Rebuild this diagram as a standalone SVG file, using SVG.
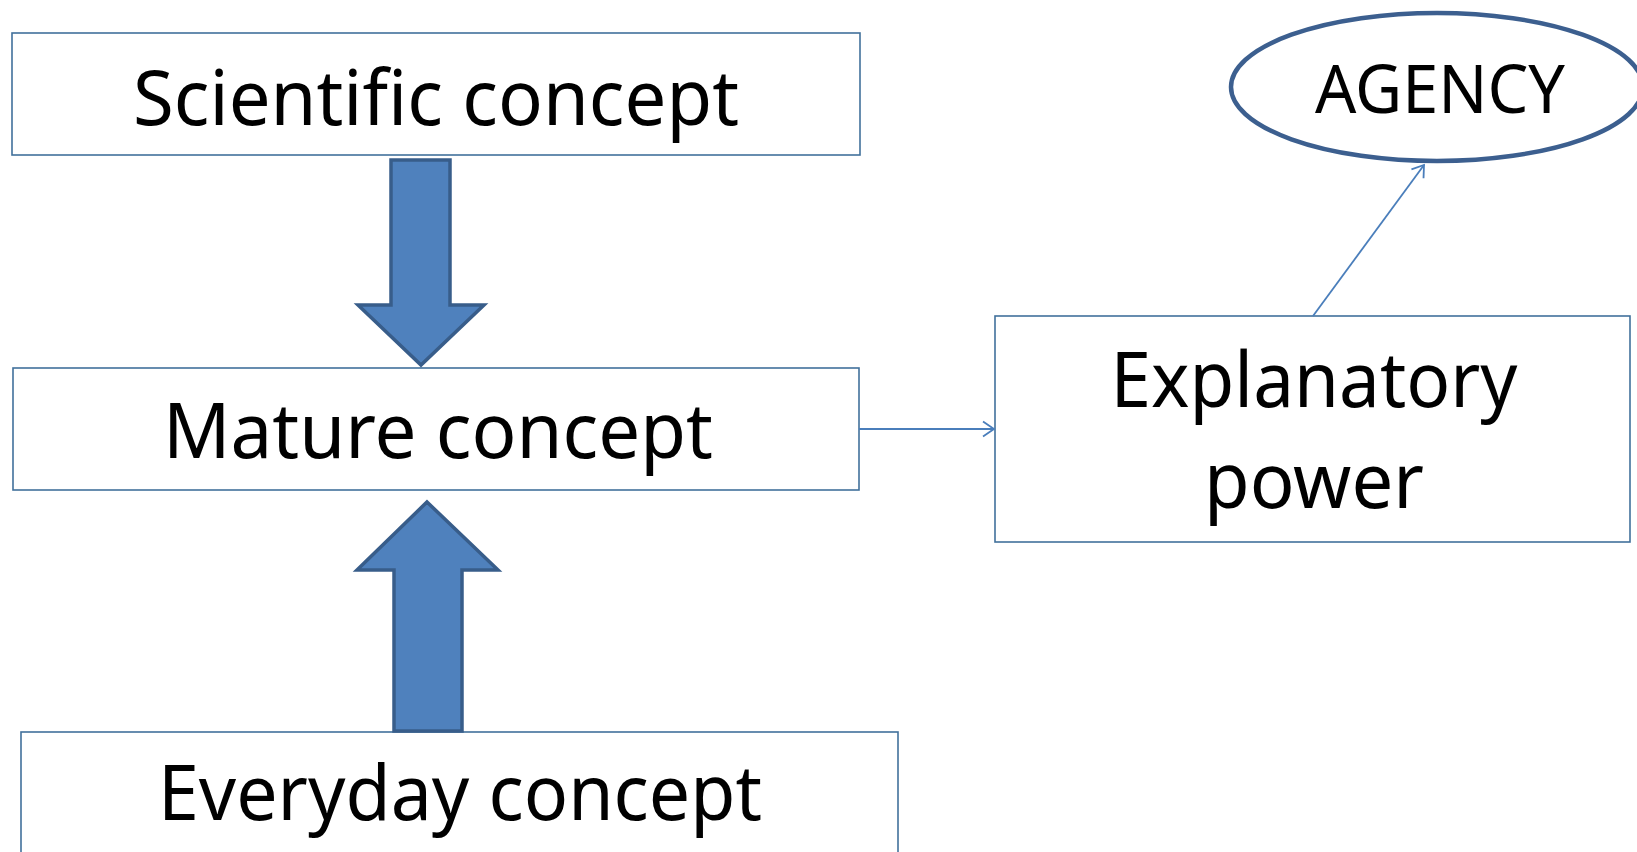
<svg xmlns="http://www.w3.org/2000/svg" width="1637" height="852" viewBox="0 0 1637 852">
<style>
.box{fill:#fff;stroke:#41719C;stroke-width:1.6}
.blk{fill:#4F81BD;stroke:#385D8A;stroke-width:3.5;stroke-linejoin:miter}
.lbl{font-family:"Noto Sans","Open Sans",sans-serif;font-size:76px;fill:#000;text-anchor:middle}
.con{fill:none;stroke:#4A7EBB;stroke-width:1.8}
</style>
<defs>
<marker id="open" markerUnits="userSpaceOnUse" markerWidth="16" markerHeight="18" refX="13" refY="9" orient="auto">
<path d="M2,1.5 L13,9 L2,16.5" fill="none" stroke="#4A7EBB" stroke-width="1.8"/>
</marker>
</defs>
<rect width="1637" height="852" fill="#fff"/>
<g id="scientific">
<rect class="box" x="12" y="33" width="848" height="122"/>
<text class="lbl" x="436" y="125" textLength="606" lengthAdjust="spacingAndGlyphs">Scientific concept</text>
</g>
<g id="mature">
<rect class="box" x="13" y="368" width="846" height="122"/>
<text class="lbl" x="438" y="458" textLength="550" lengthAdjust="spacingAndGlyphs">Mature concept</text>
</g>
<g id="everyday">
<rect class="box" x="21" y="732" width="877" height="140"/>
<text class="lbl" x="460" y="820" textLength="604" lengthAdjust="spacingAndGlyphs">Everyday concept</text>
</g>
<g id="explanatory">
<rect class="box" x="995" y="316" width="635" height="226"/>
<text class="lbl" x="1314" y="407" textLength="407" lengthAdjust="spacingAndGlyphs">Explanatory</text>
<text class="lbl" x="1314" y="508" textLength="220" lengthAdjust="spacingAndGlyphs">power</text>
</g>
<g id="agency">
<ellipse cx="1437" cy="87" rx="206" ry="74" fill="#fff" stroke="#3C5F8F" stroke-width="4.5"/>
<text class="lbl" x="1440" y="113" style="font-size:67px" textLength="250" lengthAdjust="spacingAndGlyphs">AGENCY</text>
</g>
<g id="connectors">
<polygon class="blk" points="391,160 450,160 450,305 484,305 421,365 358,305 391,305"/>
<polygon class="blk" points="427,502 498,570 462,570 462,731 394,731 394,570 357,570"/>
<line class="con" x1="859" y1="429" x2="994" y2="429" marker-end="url(#open)"/>
<line class="con" x1="1313" y1="316" x2="1424" y2="165" marker-end="url(#open)"/>
</g>
</svg>
